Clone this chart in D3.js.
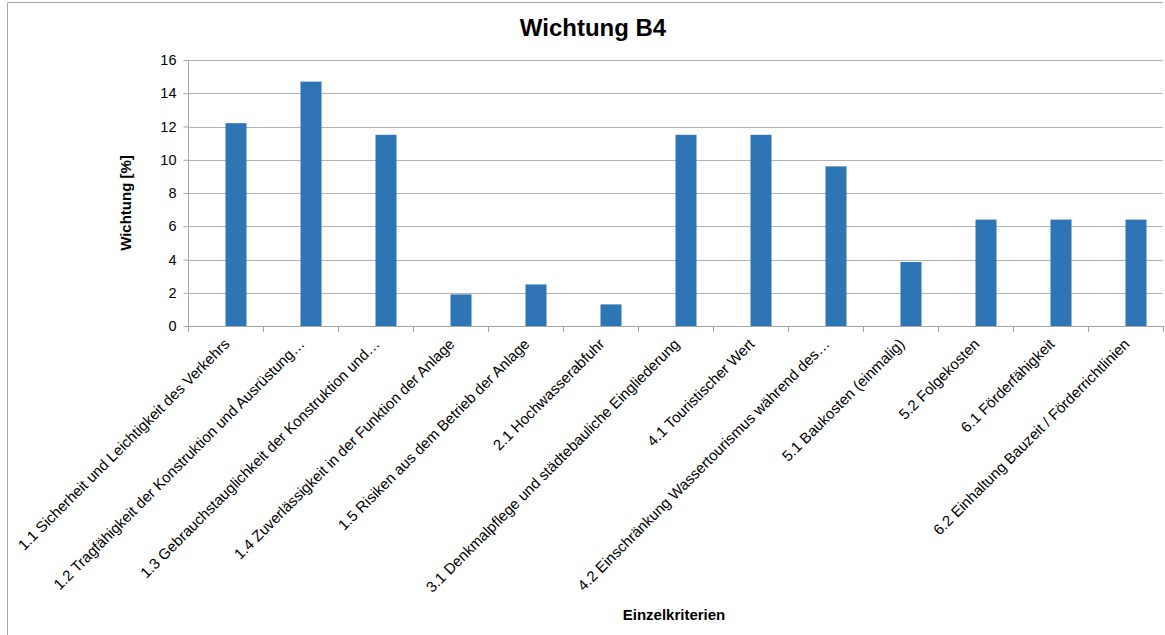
<!DOCTYPE html>
<html>
<head>
<meta charset="utf-8">
<script src="https://cdn.jsdelivr.net/npm/d3@7"></script>
<style>
  html, body { margin: 0; padding: 0; background: #fff; }
  svg { display: block; font-family: "Liberation Sans", Arial, sans-serif; }
</style>
</head>
<body>
<svg id="chart" width="1165" height="635"></svg>
<script>
const categories = [
  "1.1 Sicherheit und Leichtigkeit des Verkehrs",
  "1.2 Tragfähigkeit der Konstruktion und Ausrüstung…",
  "1.3 Gebrauchstauglichkeit der Konstruktion und…",
  "1.4 Zuverlässigkeit in der Funktion der Anlage",
  "1.5 Risiken aus dem Betrieb der Anlage",
  "2.1 Hochwasserabfuhr",
  "3.1 Denkmalpflege und städtebauliche Eingliederung",
  "4.1 Touristischer Wert",
  "4.2 Einschränkung Wassertourismus während des…",
  "5.1 Baukosten (einmalig)",
  "5.2 Folgekosten",
  "6.1 Förderfähigkeit",
  "6.2 Einhaltung Bauzeit / Förderrichtlinien"
];
const values = [12.2, 14.7, 11.5, 1.9, 2.5, 1.3, 11.5, 11.5, 9.6, 3.85, 6.4, 6.4, 6.4];
const yTicks = [0, 2, 4, 6, 8, 10, 12, 14, 16];
const chartTitle = "Wichtung B4";
const yTitle = "Wichtung [%]";
const xTitle = "Einzelkriterien";

(function () {
const svg = d3.select("#chart");
const pLeft = 188, pRight = 1163, pTop = 60, pBottom = 326;

// outer frame (top + left visible)
svg.append("line").attr("x1", 7.5).attr("x2", 1163).attr("y1", 2.5).attr("y2", 2.5)
  .attr("stroke", "#a6a6a6").attr("stroke-width", 1);
svg.append("line").attr("x1", 7.5).attr("x2", 7.5).attr("y1", 2.5).attr("y2", 635)
  .attr("stroke", "#a6a6a6").attr("stroke-width", 1);

const x = d3.scaleBand().domain(categories).range([pLeft, pRight]).padding(0);
const y = d3.scaleLinear().domain([0, 16]).range([pBottom, pTop]);

// gridlines
svg.append("g").selectAll("line").data(yTicks.filter(d => d > 0)).join("line")
  .attr("x1", pLeft).attr("x2", pRight)
  .attr("y1", d => Math.round(y(d)) + 0.5).attr("y2", d => Math.round(y(d)) + 0.5)
  .attr("stroke", "#b3b3b3").attr("stroke-width", 1);

// bars (second slot of a two-slot cluster)
const bw = x.bandwidth() * 0.28;
svg.append("g").selectAll("rect").data(values).join("rect")
  .attr("x", (d, i) => x(categories[i]) + x.bandwidth() / 2)
  .attr("y", d => y(d))
  .attr("width", bw)
  .attr("height", d => y(0) - y(d))
  .attr("fill", "#2e75b6");

// y axis
const yAxis = d3.axisLeft(y).tickValues(yTicks).tickSize(5).tickPadding(7).tickFormat(d3.format("d"));
const gy = svg.append("g").attr("transform", `translate(${pLeft + 0.5},0)`).call(yAxis);
gy.select(".domain").attr("stroke", "#a6a6a6").attr("d", `M0,${pTop}V${pBottom}`);
gy.selectAll(".tick line").attr("stroke", "#a6a6a6");
gy.selectAll(".tick text").attr("font-size", "14.5px").attr("fill", "#000")
  .attr("font-family", "'Liberation Sans', Arial, sans-serif");

// x axis line and ticks at band boundaries
svg.append("line").attr("x1", pLeft).attr("x2", pRight).attr("y1", pBottom + 0.5).attr("y2", pBottom + 0.5)
  .attr("stroke", "#a6a6a6");
const bounds = categories.map(c => x(c)).concat([pRight]);
svg.append("g").selectAll("line").data(bounds).join("line")
  .attr("x1", d => Math.round(d) + 0.5).attr("x2", d => Math.round(d) + 0.5)
  .attr("y1", pBottom).attr("y2", pBottom + 6)
  .attr("stroke", "#a6a6a6");

// category labels
svg.append("g").selectAll("text").data(categories).join("text")
  .attr("transform", d => `translate(${x(d) + x.bandwidth() / 2 + 5},${pBottom + 19}) rotate(-45)`)
  .attr("text-anchor", "end")
  .attr("font-size", "15px")
  .attr("fill", "#000")
  .text(d => d);

// titles
svg.append("text").attr("x", 593).attr("y", 36).attr("text-anchor", "middle")
  .attr("font-size", "24px").attr("font-weight", "bold").attr("fill", "#000").text(chartTitle);
svg.append("text").attr("transform", `translate(131,203) rotate(-90)`).attr("text-anchor", "middle")
  .attr("font-size", "15px").attr("font-weight", "bold").attr("fill", "#000").text(yTitle);
svg.append("text").attr("x", 674).attr("y", 620).attr("text-anchor", "middle")
  .attr("font-size", "15px").attr("font-weight", "bold").attr("fill", "#000").text(xTitle);
})();
</script>
</body>
</html>
